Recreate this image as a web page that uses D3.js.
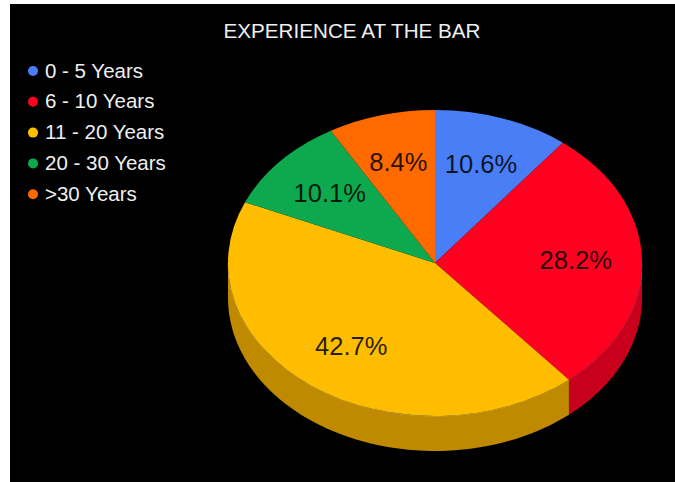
<!DOCTYPE html>
<html>
<head>
<meta charset="utf-8">
<script src="https://cdn.jsdelivr.net/npm/d3@7"></script>
<style>
  html, body { margin: 0; padding: 0; background: #ffffff; }
  svg { display: block; }
</style>
</head>
<body>
<svg id="chart" width="675" height="482"></svg>
<script>
// Experience at the bar: share of respondents by years of practice
const categories = ["0 - 5 Years", "6 - 10 Years", "11 - 20 Years", "20 - 30 Years", ">30 Years"];
const shares = [10.6, 28.2, 42.7, 10.1, 8.4];
const topColors = ["#4a7ef6", "#ff0020", "#ffbd00", "#0ea84e", "#ff6a00"];
const sideColors = ["#3a62c0", "#c8001b", "#bf8a00", "#0a7d3a", "#c05000"];
const title = "EXPERIENCE AT THE BAR";

const svg = d3.select("#chart");
const W = 675, H = 482;
const font = "Liberation Sans, Arial, Helvetica, sans-serif";

// dark panel
svg.append("rect").attr("x", 10).attr("y", 4).attr("width", W - 10).attr("height", H - 4).attr("fill", "#000");

svg.append("text")
  .attr("x", 352).attr("y", 38)
  .attr("text-anchor", "middle")
  .attr("font-family", font)
  .attr("font-size", 21)
  .attr("fill", "#efefef")
  .attr("textLength", 257)
  .attr("lengthAdjust", "spacingAndGlyphs")
  .text(title);

// legend
const legend = svg.append("g").attr("transform", "translate(33,71)");
const rowStep = 30.8;
categories.forEach((c, i) => {
  const g = legend.append("g").attr("transform", `translate(0,${i * rowStep})`);
  g.append("circle").attr("r", 5).attr("fill", topColors[i]);
  g.append("text")
    .attr("x", 12).attr("y", -1)
    .attr("dominant-baseline", "central")
    .attr("font-family", font)
    .attr("font-size", 20.5)
    .attr("fill", "#efefef")
    .text(c);
});

// 3D pie geometry
const cx = 435, cy = 263, rx = 207, ry = 153, depth = 35;
const k = ry / rx;

const pie = d3.pie().sort(null).value(d => d)(shares);

const pt = (a, dy) => [cx + rx * Math.sin(a), cy - ry * Math.cos(a) + dy];
const line = d3.line();

// side walls for the front half (angles between 90° and 270°)
const front0 = Math.PI / 2, front1 = 3 * Math.PI / 2;
const sides = svg.append("g");
pie.forEach((p, i) => {
  const a0 = Math.max(p.startAngle, front0);
  const a1 = Math.min(p.endAngle, front1);
  if (a1 <= a0) return;
  const n = 60;
  const top = d3.range(n + 1).map(j => pt(a0 + (a1 - a0) * j / n, 0));
  const bottom = d3.range(n + 1).map(j => pt(a1 - (a1 - a0) * j / n, depth));
  sides.append("path")
    .attr("d", line(top.concat(bottom)) + "Z")
    .attr("fill", sideColors[i]);
});

// rim highlight along the front edge of the top face
svg.append("path")
  .attr("d", line(d3.range(121).map(j => pt(front0 + (front1 - front0) * j / 120, 0))))
  .attr("fill", "none")
  .attr("stroke", "rgba(255,255,255,0.25)")
  .attr("stroke-width", 1);

// top face
const arc = d3.arc().innerRadius(0).outerRadius(rx);
const topFace = svg.append("g").attr("transform", `translate(${cx},${cy}) scale(1,${k})`);
topFace.selectAll("path").data(pie).join("path")
  .attr("d", arc)
  .attr("fill", (d, i) => topColors[i]);

// percentage labels
const labelArc = d3.arc().innerRadius(rx * 0.68).outerRadius(rx * 0.68);
svg.append("g").selectAll("text").data(pie).join("text")
  .attr("x", d => cx + labelArc.centroid(d)[0])
  .attr("y", d => cy + labelArc.centroid(d)[1] * k - 1)
  .attr("text-anchor", "middle")
  .attr("dominant-baseline", "central")
  .attr("font-family", font)
  .attr("font-size", 25.5)
  .attr("fill", "rgba(0,0,0,0.85)")
  .text(d => d.data.toFixed(1) + "%");
</script>
</body>
</html>
